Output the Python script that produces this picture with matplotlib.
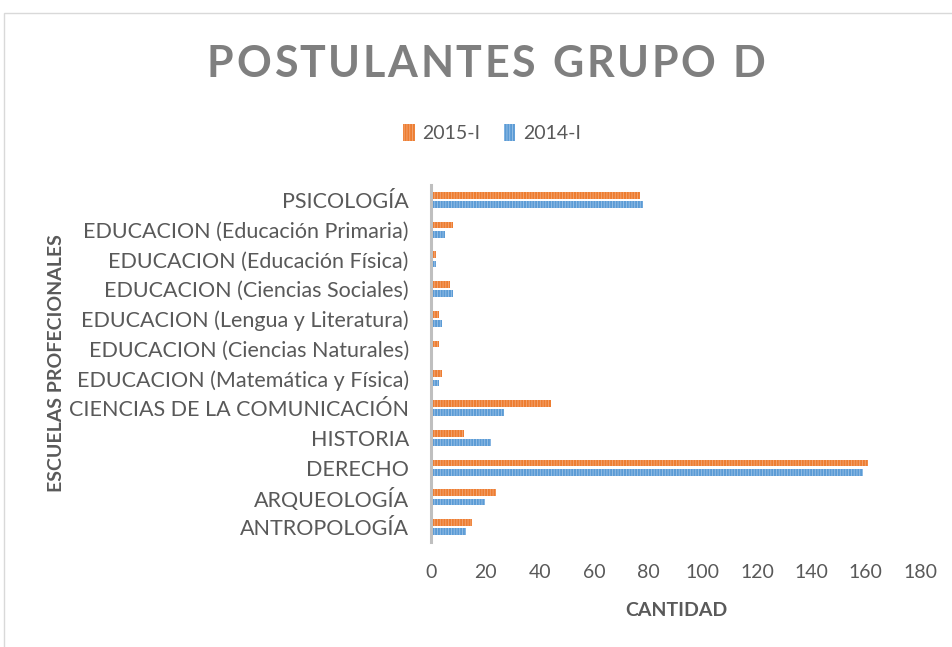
import matplotlib
matplotlib.use("Agg")
import matplotlib.pyplot as plt
from matplotlib.patches import Patch, Rectangle
import numpy as np

plt.rcParams['font.family'] = ['Lato', 'DejaVu Sans']
plt.rcParams['hatch.linewidth'] = 0.6

categories = ["ANTROPOLOGÍA", "ARQUEOLOGÍA", "DERECHO", "HISTORIA",
              "CIENCIAS DE LA COMUNICACIÓN", "EDUCACION (Matemática y Física)",
              "EDUCACION (Ciencias Naturales)", "EDUCACION (Lengua y Literatura)",
              "EDUCACION (Ciencias Sociales)", "EDUCACION (Educación Física)",
              "EDUCACION (Educación Primaria)", "PSICOLOGÍA"]
v2015 = [15, 24, 161, 12, 44, 4, 3, 3, 7, 2, 8, 77]
v2014 = [13, 20, 159, 22, 27, 3, 0, 4, 8, 2, 5, 78]
xticks = [0, 20, 40, 60, 80, 100, 120, 140, 160, 180]
series_names = ["2015-I", "2014-I"]
title = "POSTULANTES GRUPO D"

ORANGE = "#ED7D31"; ORANGE_L = "#F4A978"
BLUE = "#5B9BD5"; BLUE_L = "#9CC3E8"
TXT = "#595959"

W, H = 953, 647
fig = plt.figure(figsize=(W/100, H/100), dpi=100)
fig.patch.set_facecolor("white")

# chart border
fig.add_artist(Rectangle((4/W, 0 - 0.01), 1.0, (H - 13)/H + 0.01, transform=fig.transFigure,
                         fill=False, edgecolor="#D9D9D9", linewidth=1.0))

ax = fig.add_axes([431/W, 1 - 542/H, 489/W, 357/H])
y = np.arange(len(categories))
bh = 0.23
off = 0.155
ax.barh(y + off, v2015, height=bh, color=ORANGE, edgecolor=ORANGE_L, linewidth=0, hatch="||||||")
ax.barh(y - off, v2014, height=bh, color=BLUE, edgecolor=BLUE_L, linewidth=0, hatch="||||||")

ax.set_xlim(0, 180)
ax.set_ylim(-0.5, len(categories) - 0.5)
ax.set_xticks(xticks)
ax.set_xticklabels([str(t) for t in xticks], fontsize=14, color=TXT)
ax.set_yticks(y)
ax.set_yticklabels(categories, fontsize=15.5, color=TXT)
ax.tick_params(axis='both', length=0)
ax.tick_params(axis='x', pad=16)
ax.tick_params(axis='y', pad=16)
for s in ["top", "right", "bottom"]:
    ax.spines[s].set_visible(False)
ax.spines["left"].set_color("#BFBFBF")
ax.spines["left"].set_linewidth(2.2)

fig.text(676/W, 1 - 610/H, "CANTIDAD", ha="center", va="center", fontsize=14,
         fontweight="bold", color=TXT)
fig.text(57/W, 1 - 363/H, "ESCUELAS PROFECIONALES", ha="center", va="center",
         fontsize=14, fontweight="bold", color=TXT, rotation=90)

# letter-spaced title
renderer = fig.canvas.get_renderer()
tprops = dict(fontsize=31, fontweight="bold", color="#7F7F7F", va="center")
widths = []
for ch in title:
    t = fig.text(0, 0, ch if ch != " " else "n", **tprops)
    bb = t.get_window_extent(renderer)
    widths.append(bb.width if ch != " " else bb.width * 0.5)
    t.remove()
target = 765 - 207
gap = (target - sum(widths)) / (len(title) - 1)
x = 207.0
for ch, w in zip(title, widths):
    if ch != " ":
        fig.text(x / W, 1 - 64/H, ch, ha="left", **tprops)
    x += w + gap

handles = [Patch(facecolor=ORANGE, edgecolor=ORANGE_L, linewidth=0, hatch="||||||"),
           Patch(facecolor=BLUE, edgecolor=BLUE_L, linewidth=0, hatch="||||||")]
leg = fig.legend(handles, series_names, loc="center", bbox_to_anchor=(492/W, 1 - 133/H),
                 ncol=2, frameon=False, fontsize=14, handlelength=0.6, handleheight=1.0,
                 handletextpad=0.4, columnspacing=1.2)
for t in leg.get_texts():
    t.set_color(TXT)

fig.savefig("out.png", dpi=100)
